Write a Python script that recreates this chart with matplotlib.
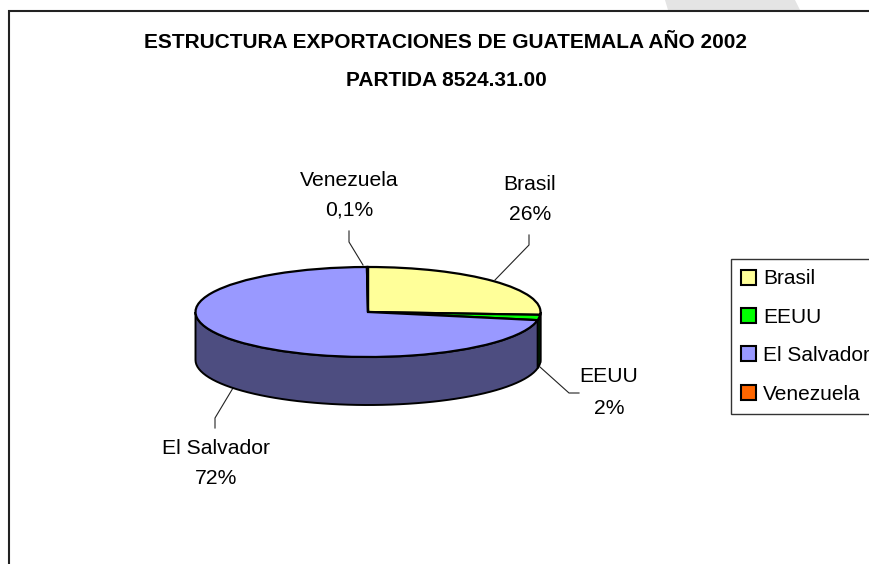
import numpy as np
import matplotlib
matplotlib.use("Agg")
import matplotlib.pyplot as plt
from matplotlib.patches import Polygon, Rectangle

plt.rcParams['font.family'] = ['Liberation Sans', 'DejaVu Sans']

countries = ["Brasil", "EEUU", "El Salvador", "Venezuela"]
shares = [26.0, 1.9, 72.0, 0.1]
share_labels = ["26%", "2%", "72%", "0,1%"]
top_colors = ["#FFFF99", "#00FF00", "#9999FF", "#FF6600"]
side_colors = ["#80804D", "#008000", "#4D4D80", "#803300"]
title_lines = ["ESTRUCTURA EXPORTACIONES DE GUATEMALA AÑO 2002", "PARTIDA 8524.31.00"]

W, H = 869, 564
cx, cy = 368, 312
rx, ry = 172.5, 45
depth = 48 / ry

fig = plt.figure(figsize=(W / 100, H / 100), dpi=100, facecolor="white")

# pixel layer for frame, leaders and labels
px = fig.add_axes([0, 0, 1, 1])
px.set_xlim(0, W)
px.set_ylim(H, 0)
px.axis("off")
px.add_patch(Polygon([(665, 0), (795, 0), (800, 10), (668, 10)], color="#E4E4E4", lw=0))
px.plot([9, 9, W], [H, 10.5, 10.5], color="#222222", lw=1.5, solid_joinstyle="miter")

for i, line in enumerate(title_lines):
    px.text(446, [43, 81][i], line, ha="center", va="center", fontsize=15, fontweight="bold")

# pie layer, one x unit is rx pixels and one y unit is ry pixels
ax = fig.add_axes([0, 0, 1, 1], facecolor="none")
wedges, _ = ax.pie(shares, colors=top_colors, startangle=90, counterclock=False,
                   wedgeprops=dict(edgecolor="black", linewidth=1.6, zorder=3))
ax.set_aspect("auto")
ax.set_xlim(-cx / rx, (W - cx) / rx)
ax.set_ylim((cy - H) / ry, cy / ry)

# rim below the front half of the pie
fracs = np.array(shares) / sum(shares)
ends = 90 - 360 * np.cumsum(fracs)
starts = np.r_[90, ends[:-1]]
for a, b, c in zip(starts, ends, side_colors):
    hi, lo = min(a, 0), max(b, -180)
    if hi <= lo:
        continue
    t = np.radians(np.linspace(hi, lo, 60))
    xs, ys = np.cos(t), np.sin(t)
    ax.fill(np.r_[xs, xs[::-1]], np.r_[ys, ys[::-1] - depth], facecolor=c,
            edgecolor="black", lw=1.4, zorder=2, clip_on=False)

# leaders and data labels
leaders = [[(529, 235), (529, 245), (495, 280)],
           [(579, 393), (569, 393), (540, 367)],
           [(215, 428), (215, 418), (233, 388)],
           [(349, 231), (349, 242), (363, 265)]]
label_pos = [(530, 184, 215), (609, 376, 408), (216, 448, 479), (349, 180, 210)]
for pts, (x, y1, y2), name, pct in zip(leaders, label_pos, countries, share_labels):
    px.plot(*zip(*pts), color="#222222", lw=0.8)
    px.text(x, y1, name, ha="center", va="center", fontsize=15.2)
    px.text(x, y2, pct, ha="center", va="center", fontsize=15.2)

# legend
handles = [Rectangle((0, 0), 1, 1, facecolor=c, edgecolor="black", lw=1.5) for c in top_colors]
leg = px.legend(handles, countries, loc="upper left", bbox_to_anchor=(731, 259),
                bbox_transform=px.transData, fontsize=15, frameon=True, fancybox=False,
                edgecolor="#333333", framealpha=1, handlelength=0.72, handleheight=0.72,
                handletextpad=0.33, labelspacing=0.93, borderpad=0.5, borderaxespad=0)
leg.get_frame().set_linewidth(1)
leg.set_zorder(5)

fig.savefig("out.png", dpi=100)
